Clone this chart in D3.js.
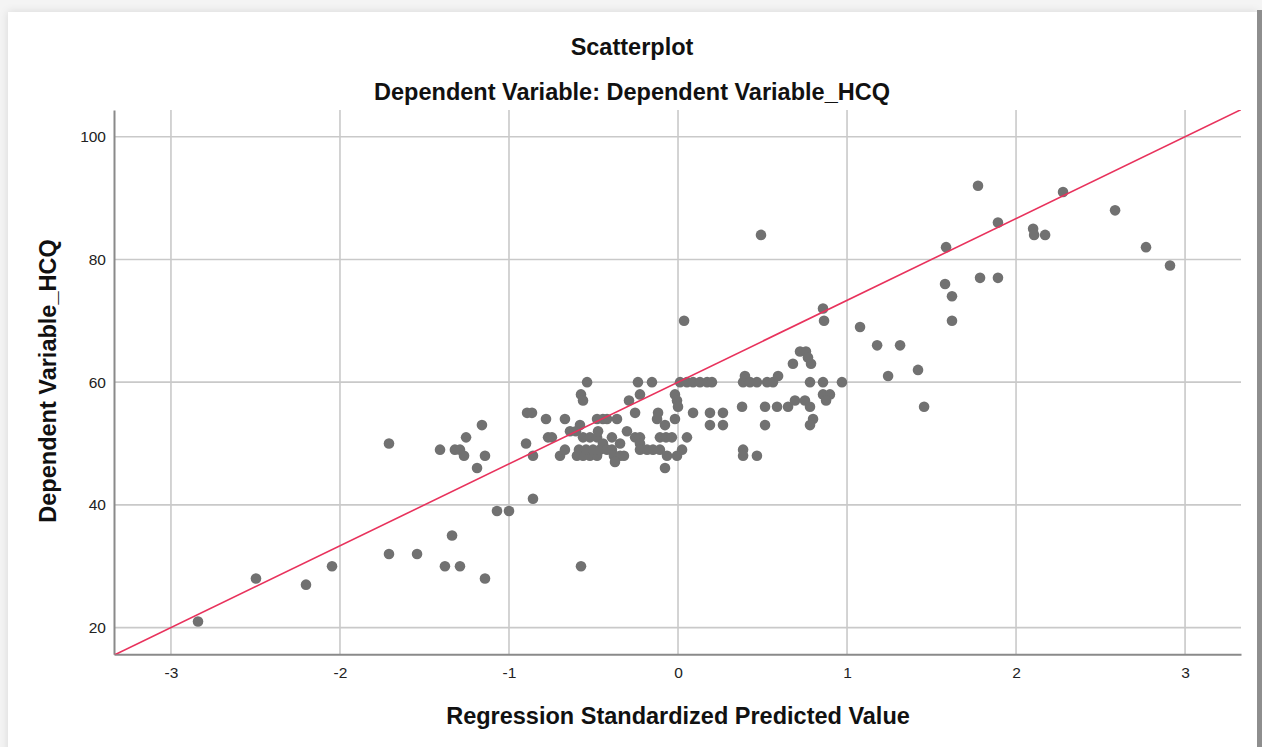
<!DOCTYPE html>
<html>
<head>
<meta charset="utf-8">
<script src="https://cdn.jsdelivr.net/npm/d3@7"></script>
<style>
  html, body { margin: 0; padding: 0; background: #f4f4f4; }
  svg { display: block; font-family: "Liberation Sans", Arial, sans-serif; }
</style>
</head>
<body>
<svg id="chart" width="1262" height="747"></svg>
<script>
// Regression standardized predicted value (x) and observed HCQ score (y)
const predicted = [
  -2.840, -2.497, -2.201, -2.047, -1.710, -1.544, -1.710, -1.408, -1.379, -1.337,
  -1.290, -1.320, -1.290, -1.254, -1.266, -1.160, -1.142, -1.189, -1.142, -1.071,
  -1.000, -0.858, -0.899, -0.893, -0.864, -0.781, -0.769, -0.746, -0.858, -0.698,
  -0.669, -0.669, -0.639, -0.604, -0.580, -0.574, -0.562, -0.538, -0.574, -0.562,
  -0.521, -0.479, -0.598, -0.562, -0.521, -0.479, -0.586, -0.544, -0.503, -0.462,
  -0.479, -0.444, -0.420, -0.361, -0.473, -0.444, -0.420, -0.391, -0.391, -0.343,
  -0.379, -0.343, -0.320, -0.373, -0.302, -0.290, -0.254, -0.254, -0.225, -0.237,
  -0.225, -0.225, -0.225, -0.183, -0.154, -0.148, -0.124, -0.118, -0.107, -0.107,
  -0.077, -0.071, -0.036, -0.065, -0.077, -0.018, -0.006, 0.000, -0.018, -0.006,
  0.024, 0.053, 0.012, 0.053, 0.089, 0.130, 0.172, 0.201, 0.036, 0.089,
  0.189, 0.266, 0.189, 0.266, 0.385, 0.396, 0.426, 0.467, 0.527, 0.562,
  0.592, 0.379, 0.515, 0.586, 0.651, 0.515, 0.385, 0.385, 0.467, 0.491,
  0.692, 0.751, 0.781, 0.799, 0.781, 0.680, 0.787, 0.722, 0.757, 0.769,
  0.781, 0.858, 0.970, 0.858, 0.899, 0.876, 0.858, 0.864, 1.077, 1.178,
  1.314, 1.243, 1.420, 1.456, 1.580, 1.586, 1.621, 1.621, 1.775, 1.787,
  1.893, 1.893, 2.101, 2.107, 2.172, 2.278, 2.586, 2.769, 2.911
];
const observed = [
  21, 28, 27, 30, 32, 32, 50, 49, 30, 35,
  30, 49, 49, 51, 48, 53, 48, 46, 28, 39,
  39, 41, 50, 55, 55, 54, 51, 51, 48, 48,
  54, 49, 52, 52, 53, 58, 57, 60, 30, 51,
  51, 51, 48, 48, 48, 48, 49, 49, 49, 49,
  54, 54, 54, 54, 52, 50, 49, 49, 51, 50,
  48, 48, 48, 47, 52, 57, 55, 51, 51, 60,
  58, 50, 49, 49, 60, 49, 54, 55, 51, 49,
  53, 51, 51, 48, 46, 58, 57, 56, 54, 48,
  49, 51, 60, 60, 60, 60, 60, 60, 70, 55,
  55, 55, 53, 53, 60, 61, 60, 60, 60, 60,
  61, 56, 56, 56, 56, 53, 49, 48, 48, 84,
  57, 57, 56, 54, 53, 63, 63, 65, 65, 64,
  60, 60, 60, 58, 58, 57, 72, 70, 69, 66,
  66, 61, 62, 56, 76, 82, 74, 70, 92, 77,
  77, 86, 85, 84, 84, 91, 88, 82, 79
];

// Axis ticks
const xTicks = [-3, -2, -1, 0, 1, 2, 3];
const yTicks = [20, 40, 60, 80, 100];

// Fit line: HCQ = intercept + slope * predicted
const fitIntercept = [60];
const fitSlope = [13.333];

const titleText = "Scatterplot";
const subtitleText = "Dependent Variable: Dependent Variable_HCQ";
const xTitle = "Regression Standardized Predicted Value";
const yTitle = "Dependent Variable_HCQ";

const svg = d3.select("#chart");
const W = 1262, H = 747;

// Panel card with a soft shadow
const defs = svg.append("defs");
const shadow = defs.append("filter").attr("id", "cardShadow")
  .attr("x", "-5%").attr("y", "-5%").attr("width", "110%").attr("height", "110%");
shadow.append("feDropShadow").attr("dx", 0).attr("dy", 0)
  .attr("stdDeviation", 4).attr("flood-color", "#000").attr("flood-opacity", 0.12);

svg.append("rect").attr("x", 0).attr("y", 0).attr("width", W).attr("height", H).attr("fill", "#f4f4f4");
svg.append("rect").attr("x", 8).attr("y", 12).attr("width", 1249).attr("height", 760)
  .attr("fill", "#ffffff").attr("filter", "url(#cardShadow)");
svg.append("rect").attr("x", 1257).attr("y", 10).attr("width", 5).attr("height", H)
  .attr("fill", "#8e8e8e");

// Plot region
const plot = { left: 114, right: 1241, top: 110, bottom: 654.3 };

const x = d3.scaleLinear().domain([-3.337, 3.331]).range([plot.left, plot.right]);
const y = d3.scaleLinear().domain([15.646, 104.354]).range([plot.bottom, plot.top]);

defs.append("clipPath").attr("id", "plotClip").append("rect")
  .attr("x", plot.left).attr("y", plot.top)
  .attr("width", plot.right - plot.left).attr("height", plot.bottom - plot.top);

// Grid lines
const grid = svg.append("g");
grid.selectAll("line.vx").data(xTicks).join("line")
  .attr("x1", d => x(d)).attr("x2", d => x(d))
  .attr("y1", plot.top).attr("y2", plot.bottom)
  .attr("stroke", "#c9c9c9").attr("stroke-width", 1.6);
grid.selectAll("line.hy").data(yTicks).join("line")
  .attr("x1", plot.left).attr("x2", plot.right)
  .attr("y1", d => y(d)).attr("y2", d => y(d))
  .attr("stroke", "#c9c9c9").attr("stroke-width", 1.6);

// Axes
const xAxis = svg.append("g").attr("transform", `translate(0,${plot.bottom})`)
  .call(d3.axisBottom(x).tickValues(xTicks).tickSize(0).tickPadding(13).tickFormat(d => String(d)));
const yAxis = svg.append("g").attr("transform", `translate(${plot.left},0)`)
  .call(d3.axisLeft(y).tickValues(yTicks).tickSize(0).tickPadding(8).tickFormat(d => String(d)));

[xAxis, yAxis].forEach(g => {
  g.select(".domain").attr("stroke", "#8a8a8a").attr("stroke-width", 2);
  g.selectAll(".tick text").attr("fill", "#222").style("font-size", "15.5px")
    .style("font-family", "'Liberation Sans', Arial, sans-serif");
});

// Points
svg.append("g").attr("clip-path", "url(#plotClip)")
  .selectAll("circle").data(predicted.map((p, i) => [p, observed[i]])).join("circle")
  .attr("cx", d => x(d[0])).attr("cy", d => y(d[1])).attr("r", 5.3)
  .attr("fill", "#717171");

// Fit line across the full x-range
const xd = x.domain();
const fitPts = xd.map(v => [v, fitIntercept[0] + fitSlope[0] * v]);
svg.append("g").attr("clip-path", "url(#plotClip)")
  .append("path")
  .attr("d", d3.line().x(d => x(d[0])).y(d => y(d[1]))(fitPts))
  .attr("fill", "none").attr("stroke", "#e8325c").attr("stroke-width", 1.6);

// Titles
const cx = 632;
const fs = "23.5px";
svg.append("text").attr("x", cx).attr("y", 55).attr("text-anchor", "middle")
  .style("font-size", fs).style("font-weight", "bold").attr("fill", "#111").text(titleText);
svg.append("text").attr("x", cx).attr("y", 100).attr("text-anchor", "middle")
  .style("font-size", fs).style("font-weight", "bold").attr("fill", "#111").text(subtitleText);
svg.append("text").attr("x", 678).attr("y", 724).attr("text-anchor", "middle")
  .style("font-size", fs).style("font-weight", "bold").attr("fill", "#111").text(xTitle);
svg.append("text").attr("transform", "translate(56,381) rotate(-90)").attr("text-anchor", "middle")
  .style("font-size", fs).style("font-weight", "bold").attr("fill", "#111").text(yTitle);
</script>
</body>
</html>
